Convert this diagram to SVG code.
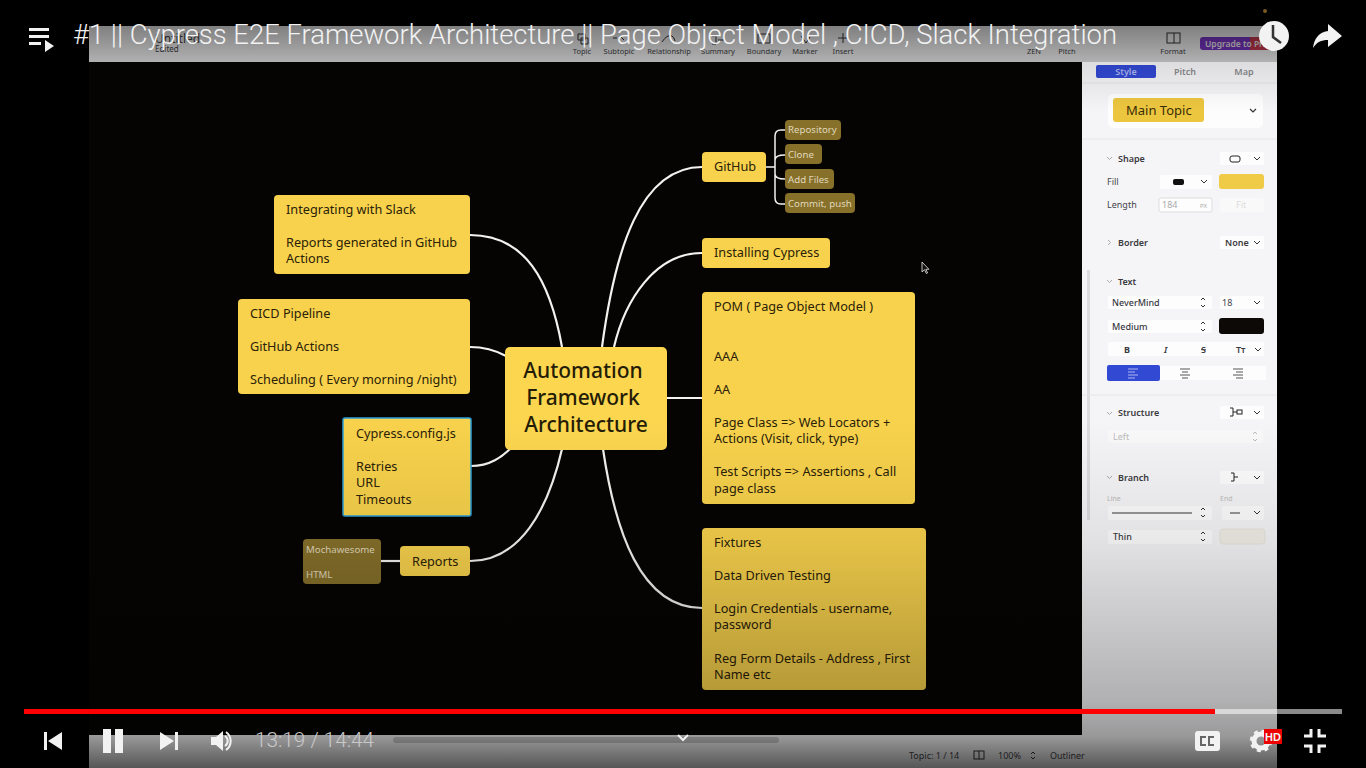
<svg xmlns="http://www.w3.org/2000/svg" width="1366" height="768" viewBox="0 0 1366 768">
<style>
.n{font-family:"Noto Sans","Liberation Sans",sans-serif;font-size:12.7px;fill:#2a2108}
.s{font-family:"Noto Sans","Liberation Sans",sans-serif;font-size:9.7px;fill:#e0d8bc}
.c{font-family:"Noto Sans","Liberation Sans",sans-serif;font-size:21px;font-weight:500;fill:#241c06;text-anchor:middle}
.y{fill:#f8d24c}
.d{fill:#86702a}
.w{fill:none;stroke:#f2f2ee;stroke-width:2.200}
.p{font-family:"Noto Sans","Liberation Sans",sans-serif;font-size:9px;fill:#3a3a3e;font-weight:600}
.l{font-family:"Noto Sans","Liberation Sans",sans-serif;font-size:9px;fill:#44444a}
.b{fill:#fdfdfe}
.tb{font-family:"Noto Sans","Liberation Sans",sans-serif;font-size:7.500px;fill:#444;text-anchor:middle}
.ic{fill:none;stroke:#333;stroke-width:1}
.ch{fill:none;stroke:#aaa;stroke-width:1}
.ui{fill:#f2f2f2}
</style>
<defs>
<linearGradient id="top" x1="0" y1="0" x2="0" y2="1"><stop offset="0" stop-color="#000" stop-opacity=".48"/><stop offset="1" stop-color="#000" stop-opacity=".28"/></linearGradient>
<linearGradient id="bot" x1="0" y1="0" x2="0" y2="1"><stop offset="0" stop-color="#000" stop-opacity="0"/><stop offset=".35" stop-color="#000" stop-opacity=".08"/><stop offset=".81" stop-color="#000" stop-opacity=".28"/><stop offset=".91" stop-color="#000" stop-opacity=".38"/><stop offset="1" stop-color="#000" stop-opacity=".65"/></linearGradient>
<linearGradient id="tb2" x1="0" y1="0" x2="0" y2="1"><stop offset="0" stop-color="#000" stop-opacity=".1"/><stop offset="1" stop-color="#000" stop-opacity="0"/></linearGradient>
</defs>
<rect width="1366" height="768" fill="#000"/>
<g id="app-window">
<rect x="89" y="26" width="1188" height="742" fill="#f5f5f7"/>
<rect x="89" y="62" width="993" height="673" fill="#050402"/>
<rect x="1087" y="270" width="3" height="250" fill="#dcdcde"/>
<rect x="393" y="737" width="386" height="6" rx="3" fill="#c9c9c9"/>
</g>
<g id="toolbar">
<text x="155" y="52" class="tb" style="font-size:8px;text-anchor:start">Edited</text>
<text x="155" y="43" class="tb" style="font-size:12px;text-anchor:start">Untitled</text>
<text x="582" y="54" class="tb">Topic</text><text x="619" y="54" class="tb">Subtopic</text><text x="669" y="54" class="tb">Relationship</text><text x="718" y="54" class="tb">Summary</text><text x="764" y="54" class="tb">Boundary</text><text x="805" y="54" class="tb">Marker</text><text x="843" y="54" class="tb">Insert</text><text x="1034" y="54" class="tb">ZEN</text><text x="1067" y="54" class="tb">Pitch</text><text x="1173" y="54" class="tb">Format</text>
<path d="M578 34h7v6h-7zM581 38h7v6h-7zM613 38h4M620 36l4 4M662 42q5-8 10-6q2 1 3 5M712 36h4v8h-4M718 40h6M758 34h12v9h-12zM801 36l5 7 4-6M832 0" class="ic"/>
<rect x="1167" y="33" width="13" height="10" class="ic" fill="none"/><path d="M1174 33v10" class="ic"/>
<path d="M843 33v10M838 38h10" class="ic"/>
<rect x="1200" y="37" width="77" height="13" rx="3" fill="#7a35c8"/>
<rect x="1250" y="37" width="27" height="13" fill="#c8384f"/>
<text x="1205" y="47" style="font-family:'Noto Sans',sans-serif;font-size:8.500px;font-weight:600;fill:#eee">Upgrade to Pro</text>
</g>
<g id="connectors">
<path class="w" d="M470 235C525 235 550 280 562 347"/>
<path class="w" d="M470 347C485 347 495 350 506 356"/>
<path class="w" d="M471 466C490 466 502 457 512 447"/>
<path class="w" d="M470 561C520 561 548 510 562 449"/>
<path class="w" d="M381 561H400"/>
<path class="w" d="M602 347C615 250 640 167 702 167"/>
<path class="w" d="M614 347C625 300 655 253 702 253"/>
<path class="w" d="M667 398H702"/>
<path class="w" d="M603 449C615 530 640 608 702 608"/>
<path class="w" style="stroke-width:1.500" d="M766 167H775M785 130H781Q775 130 775 136V198Q775 204 781 204H785M775 160Q775 155 785 155M775 174Q775 179 785 179"/>
</g>
<g id="node-central"><rect x="505" y="347" width="162" height="103" rx="5" fill="#fcd64f"/><text class="c"><tspan x="583" y="378">Automation</tspan><tspan x="583" y="405">Framework</tspan><tspan x="586" y="432">Architecture</tspan></text></g>
<g id="node-slack"><rect x="274" y="195" width="196" height="79" rx="4" class="y"/><text class="n"><tspan x="286" y="214">Integrating with Slack</tspan><tspan x="286" y="247">Reports generated in GitHub</tspan><tspan x="286" y="263">Actions</tspan></text></g>
<g id="node-cicd"><rect x="238" y="299" width="232" height="95" rx="4" class="y"/><text class="n"><tspan x="250" y="318">CICD Pipeline</tspan><tspan x="250" y="351">GitHub Actions</tspan><tspan x="250" y="384">Scheduling ( Every morning /night)</tspan></text></g>
<g id="node-config"><rect x="343" y="418" width="128" height="98" rx="2" class="y" stroke="#2a9fd6" stroke-width="1.500"/><text class="n"><tspan x="356" y="438">Cypress.config.js</tspan><tspan x="356" y="471">Retries</tspan><tspan x="356" y="487">URL</tspan><tspan x="356" y="504">Timeouts</tspan></text></g>
<g id="node-reports"><rect x="400" y="546" width="70" height="30" rx="4" class="y"/><text class="n" x="412" y="566">Reports</text></g>
<g id="node-mochawesome"><rect x="303" y="539" width="78" height="45" rx="4" class="d"/><text class="s"><tspan x="306" y="553">Mochawesome</tspan><tspan x="306" y="578">HTML</tspan></text></g>
<g id="node-github"><rect x="702" y="152" width="64" height="30" rx="4" class="y"/><text class="n" x="714" y="171">GitHub</text></g>
<g id="node-repository"><rect x="785" y="120" width="56" height="20" rx="4" class="d"/><text class="s" x="788" y="133">Repository</text></g>
<g id="node-clone"><rect x="785" y="144" width="37" height="20" rx="4" class="d"/><text class="s" x="788" y="158">Clone</text></g>
<g id="node-addfiles"><rect x="785" y="169" width="49" height="20" rx="4" class="d"/><text class="s" x="788" y="183">Add Files</text></g>
<g id="node-commit"><rect x="785" y="193" width="70" height="20" rx="4" class="d"/><text class="s" x="788" y="207">Commit, push</text></g>
<g id="node-installing"><rect x="702" y="238" width="128" height="30" rx="4" class="y"/><text class="n" x="714" y="257">Installing Cypress</text></g>
<g id="node-pom"><rect x="702" y="292" width="213" height="212" rx="4" class="y"/><text class="n"><tspan x="714" y="311">POM ( Page Object Model )</tspan><tspan x="714" y="361">AAA</tspan><tspan x="714" y="394">AA</tspan><tspan x="714" y="427">Page Class =&gt; Web Locators +</tspan><tspan x="714" y="443">Actions (Visit, click, type)</tspan><tspan x="714" y="476">Test Scripts =&gt; Assertions , Call</tspan><tspan x="714" y="493">page class</tspan></text></g>
<g id="node-fixtures"><rect x="702" y="528" width="224" height="162" rx="4" class="y"/><text class="n"><tspan x="714" y="547">Fixtures</tspan><tspan x="714" y="580">Data Driven Testing</tspan><tspan x="714" y="613">Login Credentials - username,</tspan><tspan x="714" y="629">password</tspan><tspan x="714" y="663">Reg Form Details - Address , First</tspan><tspan x="714" y="679">Name etc</tspan></text></g>
<path id="cursor" d="M922 262v10l2.500-2.300 1.800 3.800 1.300-.6-1.700-3.600h3z" fill="#111" stroke="#eee" stroke-width=".8"/>
<g id="side-panel">
<path d="M1082 83H1277M1082 139H1277M1082 395H1277" stroke="#e6e6e8"/>
<path class="ch" d="M1107 157l2.500 2.500 2.500-2.500M1108 240l2.500 2.500-2.500 2.500M1107 280l2.500 2.500 2.500-2.500M1107 412l2.500 2.500 2.500-2.500M1107 476l2.500 2.500 2.500-2.500"/>
<rect x="1096" y="65" width="60" height="13" rx="2" fill="#3249d4"/>
<text x="1126" y="75" class="p" style="fill:#aeb8f0;text-anchor:middle">Style</text><text x="1185" y="75" class="p" style="fill:#8a8a8e;text-anchor:middle">Pitch</text><text x="1244" y="75" class="p" style="fill:#8a8a8e;text-anchor:middle">Map</text>
<rect x="1108" y="94" width="155" height="34" rx="5" class="b"/>
<rect x="1113" y="98" width="91" height="24" rx="3" fill="#ecc63f"/>
<text x="1126" y="115" style="font-family:'Noto Sans',sans-serif;font-size:13px;fill:#3a2d08">Main Topic</text>
<path d="M1250 109l3 3 3-3" fill="none" stroke="#333" stroke-width="1.200"/>
<text x="1118" y="162" class="p">Shape</text><rect x="1220" y="152" width="44" height="13" rx="2" class="b"/><rect x="1230" y="156" width="10" height="6" rx="2" fill="none" stroke="#222"/><path d="M1254 157l3 3 3-3" fill="none" stroke="#333"/>
<text x="1107" y="185" class="l">Fill</text><rect x="1160" y="175" width="52" height="14" rx="2" class="b"/><rect x="1173" y="179" width="11" height="6" rx="2" fill="#111"/><path d="M1201 180l3 3 3-3" fill="none" stroke="#333"/><rect x="1219" y="174" width="45" height="15" rx="3" fill="#f0cb47"/>
<text x="1107" y="208" class="l">Length</text><rect x="1159" y="198" width="53" height="14" rx="2" class="b" stroke="#ddd"/><text x="1162" y="208" class="l" style="fill:#aaa">184</text><text x="1200" y="208" class="l" style="fill:#aaa;font-size:6px">PX</text><rect x="1220" y="198" width="44" height="14" rx="2" fill="#f9f9fa"/><text x="1236" y="208" class="l" style="fill:#ddd">Fit</text>
<text x="1118" y="246" class="p">Border</text><rect x="1220" y="236" width="44" height="13" rx="2" class="b"/><text x="1225" y="246" class="p">None</text><path d="M1254 241l3 3 3-3" fill="none" stroke="#333"/>
<text x="1118" y="285" class="p">Text</text>
<rect x="1108" y="296" width="104" height="13" rx="2" class="b"/><text x="1112" y="306" class="p" style="font-weight:500">NeverMind</text><path d="M1201 300l2-2 2 2M1201 305l2 2 2-2" fill="none" stroke="#333"/><rect x="1220" y="296" width="44" height="13" rx="2" class="b"/><text x="1222" y="306" class="l">18</text><path d="M1254 301l3 3 3-3" fill="none" stroke="#333"/>
<rect x="1108" y="320" width="104" height="13" rx="2" class="b"/><text x="1112" y="330" class="p" style="font-weight:500">Medium</text><path d="M1201 324l2-2 2 2M1201 329l2 2 2-2" fill="none" stroke="#333"/><rect x="1219" y="318" width="45" height="16" rx="3" fill="#0c0907"/>
<rect x="1108" y="342" width="156" height="14" rx="2" class="b"/><text x="1124" y="353" class="p" style="font-weight:700">B</text><text x="1164" y="353" class="p" style="font-style:italic">I</text><text x="1201" y="353" class="p" style="text-decoration:line-through">S</text><text x="1236" y="353" class="p">Tт</text><path d="M1255 348l3 3 3-3" fill="none" stroke="#333"/>
<rect x="1107" y="365" width="53" height="16" rx="2" fill="#3249d4"/><rect x="1160" y="366" width="106" height="14" class="b"/>
<path d="M1128 369h10M1128 372h7M1128 375h10M1128 378h7" stroke="#aeb8f0"/><path d="M1180 369h10M1182 372h6M1180 375h10M1182 378h6" stroke="#555"/><path d="M1233 369h10M1236 372h7M1233 375h10M1236 378h7" stroke="#555"/>
<text x="1118" y="416" class="p">Structure</text><rect x="1220" y="406" width="44" height="13" rx="2" class="b"/><path d="M1230 408h3v8h-3M1233 412h4" fill="none" stroke="#222"/><rect x="1237" y="410" width="5" height="4" fill="none" stroke="#222"/><path d="M1254 411l3 3 3-3" fill="none" stroke="#333"/>
<rect x="1108" y="430" width="155" height="13" rx="2" fill="#f9f9fa"/><text x="1113" y="440" class="l" style="fill:#bbb">Left</text><path d="M1253 434l2-2 2 2M1253 439l2 2 2-2" fill="none" stroke="#bbb"/>
<text x="1118" y="481" class="p">Branch</text><rect x="1220" y="471" width="44" height="13" rx="2" class="b"/><path d="M1231 473h3v8h-3M1234 477h4" fill="none" stroke="#222"/><path d="M1254 476l3 3 3-3" fill="none" stroke="#333"/>
<text x="1107" y="501" class="l" style="font-size:7px;fill:#bbb">Line</text><text x="1220" y="501" class="l" style="font-size:7px;fill:#bbb">End</text>
<rect x="1108" y="506" width="104" height="14" rx="2" class="b"/><path d="M1112 513h80" stroke="#333"/><path d="M1201 510l2-2 2 2M1201 515l2 2 2-2" fill="none" stroke="#333"/><rect x="1222" y="506" width="42" height="14" rx="2" class="b"/><path d="M1230 513h10" stroke="#333"/><path d="M1254 511l3 3 3-3" fill="none" stroke="#333"/>
<rect x="1108" y="530" width="104" height="14" rx="2" class="b"/><text x="1113" y="540" class="p" style="font-weight:500">Thin</text><path d="M1201 534l2-2 2 2M1201 539l2 2 2-2" fill="none" stroke="#333"/><rect x="1220" y="529" width="45" height="15" rx="3" fill="#f1efe6" stroke="#e8e6dc"/>
</g>
<g id="status-bar">
<text x="909" y="759" class="tb" style="text-anchor:start;font-size:9px">Topic: 1 / 14</text><text x="998" y="759" class="tb" style="text-anchor:start;font-size:9px">100%</text><text x="1050" y="759" class="tb" style="text-anchor:start;font-size:9px">Outliner</text>
<rect x="974" y="751" width="10" height="8" class="ic"/><path d="M979 751v8" class="ic"/><path d="M1031 754l2-2 2 2M1031 757l2 2 2-2" class="ic"/>
</g>
<rect id="overlay-top" x="89" y="26" width="1188" height="36" fill="url(#top)"/>
<rect x="89" y="62" width="1188" height="50" fill="url(#tb2)"/>
<rect id="overlay-bottom" x="89" y="420" width="1188" height="348" fill="url(#bot)"/>
<g id="player">
<text x="73" y="44" style="font-family:Roboto,'Liberation Sans',sans-serif;font-weight:300;font-size:27px;fill:#f2f2f2" textLength="1044" lengthAdjust="spacingAndGlyphs">#1 || Cypress E2E Framework Architecture || Page Object Model , CICD, Slack Integration</text>
<path class="ui" d="M29 28h20v3H29zM29 35h20v3H29zM29 42h12v3H29zM45 40l9 6-9 6z"/>
<circle cx="1265" cy="11" r="2" fill="#7a5a20"/>
<circle cx="1274" cy="36" r="15" fill="#f2f2f2"/><path d="M1273 25v12l8 6" fill="none" stroke="#333" stroke-width="2.500"/>
<path class="ui" d="M1342 36l-14-12v7c-10 1-14 9-15 17 4-6 8-8 15-8v7z"/>
<rect x="24" y="709" width="1318" height="5" fill="#8a8a8a"/>
<rect x="1215" y="709" width="62" height="5" fill="#d8d8d8"/>
<rect x="24" y="709" width="1191" height="5" fill="#f00"/>
<path class="ui" d="M44 732h3v18h-3zM62 732v18l-14-9z"/>
<path class="ui" d="M103 729h8v24h-8zM115 729h8v24h-8z"/>
<path class="ui" d="M160 732l14 9-14 9zM175 732h3v18h-3z"/>
<path class="ui" d="M211 737h5l7-6v20l-7-6h-5z"/><path d="M225 736a6 6 0 0 1 0 10M226 732a11 11 0 0 1 0 18" fill="none" stroke="#f2f2f2" stroke-width="2"/>
<text x="255" y="747" style="font-family:Roboto,'Liberation Sans',sans-serif;font-weight:300;font-size:21px;fill:#c8c8c8" textLength="119" lengthAdjust="spacingAndGlyphs">13:19 / 14:44</text>
<path d="M678 735l5 5 5-5" fill="none" stroke="#f2f2f2" stroke-width="2"/>
<rect x="1195" y="731" width="25" height="20" rx="3" fill="#f2f2f2"/><path d="M1206 737h-5v8h5M1214 737h-5v8h5" fill="none" stroke="#666" stroke-width="2"/>
<circle cx="1261" cy="741" r="7" fill="none" stroke="#f2f2f2" stroke-width="5"/><circle cx="1261" cy="741" r="10" fill="none" stroke="#f2f2f2" stroke-width="2.500" stroke-dasharray="4 3.900"/>
<rect x="1264" y="729" width="18" height="15" fill="#e00"/><text x="1273" y="741" style="font-family:'Liberation Sans',sans-serif;font-size:11px;font-weight:700;fill:#f2f2f2;text-anchor:middle">HD</text>
<path d="M1304 736h7v-7M1326 736h-7v-7M1304 746h7v7M1326 746h-7v7" fill="none" stroke="#f2f2f2" stroke-width="3"/>
</g>
</svg>
